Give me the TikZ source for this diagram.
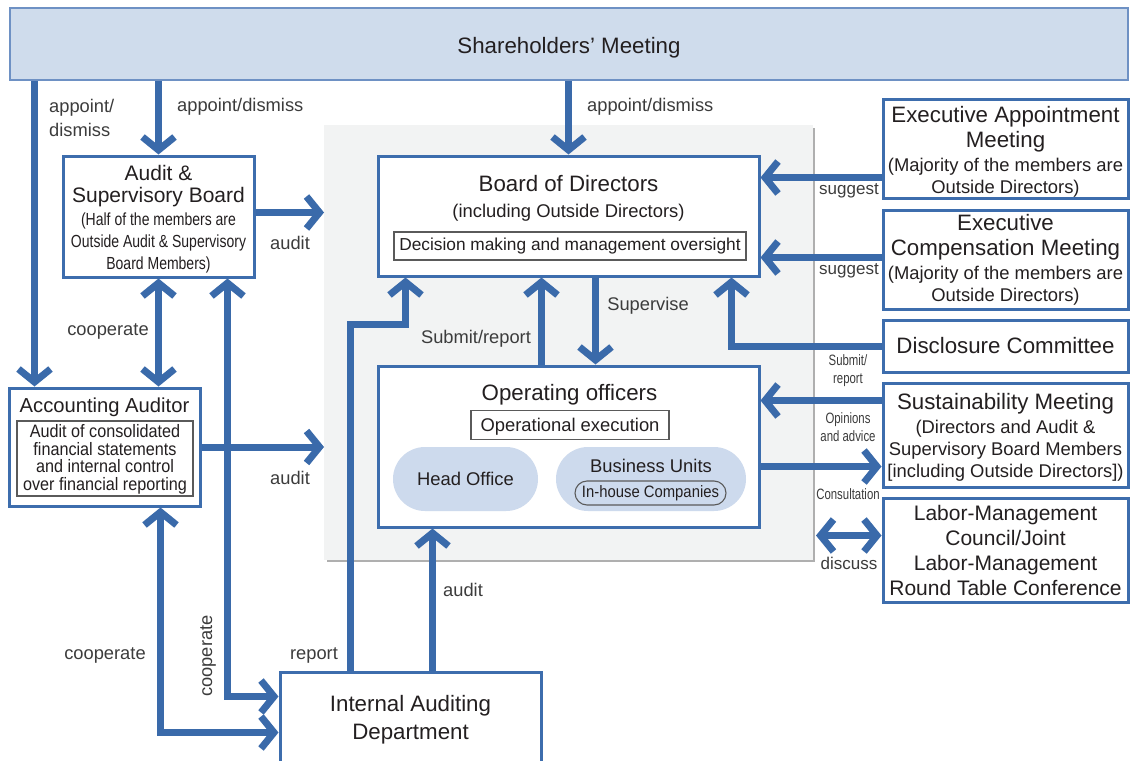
\documentclass[tikz,border=0pt]{standalone}
\usepackage{fontspec}
\setmainfont{Liberation Sans}
\newfontfamily\condfont[FakeStretch=0.8]{Liberation Sans}
\newfontfamily\condfontB[FakeStretch=0.9]{Liberation Sans}
\newfontfamily\condfontC[FakeStretch=0.76]{Liberation Sans}
\usetikzlibrary{arrows.meta,calc}
\definecolor{ablue}{RGB}{58,106,170}
\definecolor{bblue}{RGB}{61,109,173}
\definecolor{shfill}{RGB}{207,220,236}
\definecolor{shdraw}{RGB}{110,145,196}
\definecolor{pillfill}{RGB}{205,218,237}
\definecolor{grayfill}{RGB}{242,243,243}
\definecolor{grayline}{RGB}{175,175,175}
\definecolor{txt}{RGB}{35,31,32}
\definecolor{labtxt}{RGB}{60,60,60}
\definecolor{innerline}{RGB}{90,90,90}
\newcommand\fsA{\fontsize{22.3}{25}\selectfont}
\newcommand\fsAt{\fontsize{22.3}{22}\selectfont}
\newcommand\fsB{\fontsize{18.4}{22}\selectfont}
\newcommand\fsC{\condfont\fontsize{17.5}{22}\selectfont}
\newcommand\fsL{\fontsize{18.3}{24}\selectfont}
\newcommand\fsS{\condfontC\fontsize{15}{18}\selectfont}
\begin{document}
\begin{tikzpicture}[x=1pt,y=-1pt,
  box/.style={draw=bblue,line width=3pt,fill=white,inner sep=0pt,align=center,text=txt,font=\fsA},
  rbox/.style={box,minimum width=245pt,font=\fsAt},
  inbox/.style={draw=innerline,line width=1.1pt,fill=white,inner sep=0pt,align=center,text=txt},
  pill/.style={fill=pillfill,rounded corners=32pt,inner sep=0pt,text=txt},
  plain/.style={inner sep=0pt,text=txt,align=center},
  lab/.style={text=labtxt,font=\fsL,inner sep=0pt,align=center},
  slab/.style={text=labtxt,font=\fsS,inner sep=0pt,align=center},
  arr/.style={draw=ablue,line width=7pt,-{Straight Barb[length=13pt,width=32pt]}},
  darr/.style={draw=ablue,line width=7pt,{Straight Barb[length=13pt,width=32pt]}-{Straight Barb[length=13pt,width=32pt]}},
]
\useasboundingbox (0,0) rectangle (1131,760);
\fill[white] (0,0) rectangle (1131,760);

% gray region
\node[fill=grayfill,minimum width=489pt,minimum height=435pt,inner sep=0pt,outer sep=0pt] (grp) at (568.5,342.5) {};
\draw[grayline,line width=2pt] ($(grp.north east)+(1,3)$) -- ($(grp.south east)+(1,1)$) -- ($(grp.south west)+(3,1)$);

% shareholders
\node[draw=shdraw,line width=1.5pt,fill=shfill,minimum width=1118pt,minimum height=72pt,text=txt,font=\fsA] (sh) at (569,44) {\raisebox{-4pt}[\height][\depth]{Shareholders’ Meeting}};

% Board of Directors
\node[box,minimum width=381pt,minimum height=120pt] (bod) at (568.5,216) {};
\node[plain,font=\fsA] (bodt) at (568.5,184) {Board of Directors};
\node[plain,font=\fsB] (bods) at (568.5,212.5) {(including Outside Directors)};
\node[inbox,minimum width=352pt,minimum height=28pt,font=\fontsize{17.3}{20}\selectfont] (bodi) at (570,246) {Decision making and management oversight};

% Operating officers
\node[box,minimum width=381pt,minimum height=161pt] (oo) at (568.5,446.5) {};
\node[plain,font=\fsA] (oot) at (569.5,395) {Operating officers};
\node[inbox,minimum width=198pt,minimum height=29pt,font=\fsB] (ooi) at (570,425) {\raisebox{-1.5pt}[\height][\depth]{Operational execution}};
\node[pill,minimum width=145pt,minimum height=64pt,font=\fsB] (ho) at (465.5,479) {Head Office};
\node[pill,minimum width=190pt,minimum height=64pt] (bu) at (651,479) {};
\node[plain,font=\fsB] (but) at (651,466) {Business Units};
\node[draw=innerline,line width=1.1pt,rounded corners=12pt,minimum width=151pt,minimum height=24pt,inner sep=0pt,text=txt,font=\condfontB\fontsize{16.5}{18}\selectfont] (ihc) at (650.5,493) {In-house Companies};

% Audit & Supervisory Board
\node[box,minimum width=191pt,minimum height=121pt,font=\fontsize{21}{22}\selectfont] (asb) at (158.5,216.5) {\rule{0pt}{21pt}Audit \&\\Supervisory Board\\[1.5pt]\fsC (Half of the members are\\\fsC Outside Audit \& Supervisory\\\fsC Board Members)};

% Accounting Auditor
\node[box,minimum width=191pt,minimum height=118pt] (aa) at (104.5,447) {};
\node[plain,font=\fontsize{20.2}{23}\selectfont] (aat) at (104.5,407) {Accounting Auditor};
\node[inbox,minimum width=176pt,minimum height=75pt,font=\condfontB\fontsize{18}{17.7}\selectfont] (aai) at (105,458.5) {\rule{0pt}{15pt}Audit of consolidated\\financial statements\\and internal control\\over financial reporting};

% Internal Auditing Department
\node[box,minimum width=261pt,minimum height=100pt] (iad) at (410.5,722) {};
\node[plain,font=\fontsize{22.3}{28}\selectfont] (iadt) at (410.5,720) {Internal Auditing\\Department};

% right boxes
\node[rbox,minimum height=99pt] (eam) at (1005.5,148.5) {\rule{0pt}{22pt}Executive Appointment\\[3pt]Meeting\\[2pt]\fsB (Majority of the members are\\\fsB Outside Directors)};
\node[rbox,minimum height=99pt] (ecm) at (1005.5,259.5) {Executive\\[3pt]Compensation Meeting\\[2pt]\fsB (Majority of the members are\\\fsB Outside Directors)};
\node[rbox,minimum height=52pt,font=\fsA] (dc) at (1005.5,346) {Disclosure Committee};
\node[rbox,minimum height=104pt] (sm) at (1005.5,435) {\rule{0pt}{21pt}Sustainability Meeting\\[2pt]\fsB (Directors and Audit \&\\\fsB Supervisory Board Members\\\fsB {[}including Outside Directors{]})};
\node[rbox,minimum height=104pt,font=\fontsize{21}{25}\selectfont] (lm) at (1005.5,550) {Labor-Management\\Council/Joint\\Labor-Management\\Round Table Conference};

% connectors
\coordinate (c1) at ($(aa.north west)+(27,0)$);
\draw[arr] (sh.south -| c1) -- (c1);
\draw[arr] (sh.south -| asb.north) -- (asb.north);
\draw[arr] (sh.south -| bod.north) -- (bod.north);
\coordinate (c2) at ($(asb.east)+(0,-4)$);
\draw[arr] (c2) -- (c2 -| grp.west);
\draw[darr] (asb.south) -- (asb.south |- aa.north);
\coordinate (c3) at ($(asb.south east)+(-28,0)$);
\coordinate (c4) at ($(iad.north west)+(0,26)$);
\draw[darr] (c3) |- (c4);
\draw[arr] (aa.east) -- (aa.east -| grp.west);
\coordinate (c5) at ($(aa.south east)+(-41,0)$);
\coordinate (c6) at ($(iad.north west)+(0,62)$);
\draw[darr] (c5) |- (c6);
\coordinate (c7) at ($(iad.north west)+(72,0)$);
\coordinate (c8) at ($(bod.south west)+(29,0)$);
\coordinate (c9) at ($(c8)+(0,47)$);
\draw[arr] (c7) |- (c9) -- (c8);
\coordinate (c10) at ($(iad.north west)+(154,0)$);
\draw[arr] (c10) -- (c10 |- oo.south);
\coordinate (c11) at ($(oo.north west)+(165,0)$);
\draw[arr] (c11) -- (c11 |- bod.south);
\coordinate (c12) at ($(bod.south west)+(219,0)$);
\draw[arr] (c12) -- (c12 |- oo.north);
\coordinate (c13) at ($(eam.south west)+(0,-22)$);
\draw[arr] (c13) -- (c13 -| bod.east);
\coordinate (c14) at ($(ecm.west)+(0,-2)$);
\draw[arr] (c14) -- (c14 -| bod.east);
\coordinate (c15) at ($(bod.south east)+(-29,0)$);
\draw[arr] (dc.west) -| (c15);
\coordinate (c16) at ($(sm.north west)+(0,19)$);
\draw[arr] (c16) -- (c16 -| oo.east);
\coordinate (c17) at ($(oo.south east)+(0,-62)$);
\draw[arr] (c17) -- (c17 -| sm.west);
\coordinate (c18) at ($(lm.north west)+(0,39)$);
\coordinate (c19) at ($(c18 -| grp.east)+(3,0)$);
\draw[darr] (c19) -- (c18);

% labels
\node[lab,align=left,anchor=west] (l1) at (49,118) {appoint/\\dismiss};
\node[lab,anchor=west] (l2) at (177,107) {appoint/dismiss};
\node[lab,anchor=west] (l3) at (587,107) {appoint/dismiss};
\node[lab] (l4) at (290,243) {audit};
\node[lab] (l5) at (108,331) {cooperate};
\node[lab,rotate=90] (l6) at (208,656) {cooperate};
\node[lab] (l7) at (290,478) {audit};
\node[lab] (l8) at (105,655) {cooperate};
\node[lab] (l9) at (314,655) {report};
\node[lab] (l10) at (463,590) {audit};
\node[lab] (l11) at (476,339) {Submit/report};
\node[lab] (l12) at (648,306) {Supervise};
\node[lab,font=\fontsize{17}{20}\selectfont] (l13) at (849,191) {suggest};
\node[lab,font=\fontsize{17}{20}\selectfont] (l14) at (849,271) {suggest};
\node[slab] (l15) at (848,371) {Submit/\\report};
\node[slab] (l16) at (848,427) {Opinions\\and advice};
\node[slab] (l17) at (848,494) {Consultation};
\node[lab,font=\fontsize{17}{20}\selectfont] (l18) at (849,563) {discuss};
\end{tikzpicture}
\end{document}
